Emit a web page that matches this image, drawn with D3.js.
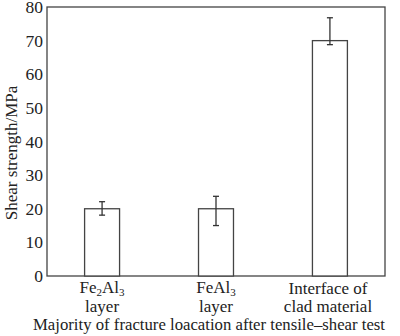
<!DOCTYPE html>
<html><head><meta charset="utf-8">
<script src="https://cdn.jsdelivr.net/npm/d3@7"></script>
<style>body{margin:0;background:#fff;} text{font-family:"Liberation Serif","Times New Roman",serif;fill:#222;}</style>
</head><body>
<svg id="c" width="400" height="336"></svg>
<script>
const categories = ["Fe2Al3", "FeAl3", "Interface"];
const values = [20, 20, 70];
const errLow = [18.1, 15, 68.8];
const errHigh = [22.1, 23.7, 76.8];
const yTicks = [0, 10, 20, 30, 40, 50, 60, 70, 80];

const svg = d3.select("#c");
const m = {l: 47, r: 385, t: 7, b: 276};
const x = d3.scaleBand().domain(categories).range([m.l, m.r]).paddingInner(0.693).paddingOuter(0.33);
const y = d3.scaleLinear().domain([0, 80]).range([m.b, m.t]);

// frame
svg.append("rect").attr("x", m.l).attr("y", m.t).attr("width", m.r - m.l).attr("height", m.b - m.t)
  .attr("fill", "none").attr("stroke", "#444").attr("stroke-width", 1.3);

// y axis labels
const ya = svg.append("g").attr("transform", `translate(${m.l},0)`)
  .call(d3.axisLeft(y).tickValues(yTicks).tickSize(0).tickPadding(4));
ya.select(".domain").remove();
ya.selectAll("text").attr("font-size", 17.5).style("font-family", '"Liberation Serif",serif').attr("fill", "#222");

// bars
svg.selectAll("rect.bar").data(categories).enter().append("rect").attr("class", "bar")
  .attr("x", d => x(d)).attr("y", (d, i) => y(values[i]))
  .attr("width", x.bandwidth()).attr("height", (d, i) => y(0) - y(values[i]))
  .attr("fill", "#fff").attr("stroke", "#444").attr("stroke-width", 1.3);

// error bars
const eb = svg.selectAll("g.err").data(categories).enter().append("g").attr("class", "err")
  .attr("stroke", "#333").attr("stroke-width", 1.3);
eb.append("line").attr("x1", d => x(d) + x.bandwidth() / 2).attr("x2", d => x(d) + x.bandwidth() / 2)
  .attr("y1", (d, i) => y(errLow[i])).attr("y2", (d, i) => y(errHigh[i]));
eb.append("line").attr("x1", d => x(d) + x.bandwidth() / 2 - 3).attr("x2", d => x(d) + x.bandwidth() / 2 + 3)
  .attr("y1", (d, i) => y(errLow[i])).attr("y2", (d, i) => y(errLow[i]));
eb.append("line").attr("x1", d => x(d) + x.bandwidth() / 2 - 3).attr("x2", d => x(d) + x.bandwidth() / 2 + 3)
  .attr("y1", (d, i) => y(errHigh[i])).attr("y2", (d, i) => y(errHigh[i]));

// category labels
const fs = 17;
const cx = i => x(categories[i]) + x.bandwidth() / 2;
function lab(i, parts, yy, dx) {
  const t = svg.append("text").attr("x", cx(i) + (dx || 0)).attr("y", yy).attr("text-anchor", "middle").attr("font-size", fs);
  parts.forEach(p => {
    if (p.sub) t.append("tspan").attr("font-size", 11).attr("dy", 2.5).text(p.t);
    else t.append("tspan").attr("dy", p.up ? -2.5 : 0).text(p.t);
  });
}
lab(0, [{t: "Fe"}, {t: "2", sub: 1}, {t: "Al", up: 1}, {t: "3", sub: 1}], 293);
lab(1, [{t: "FeAl"}, {t: "3", sub: 1}], 293);
svg.append("text").attr("x", cx(0)).attr("y", 312).attr("text-anchor", "middle").attr("font-size", fs).text("layer");
svg.append("text").attr("x", cx(1)).attr("y", 312).attr("text-anchor", "middle").attr("font-size", fs).text("layer");
svg.append("text").attr("x", 328).attr("y", 294).attr("text-anchor", "middle").attr("font-size", fs).text("Interface of");
svg.append("text").attr("x", 328).attr("y", 312).attr("text-anchor", "middle").attr("font-size", fs).text("clad material");

// axis titles
svg.append("text").attr("x", 209).attr("y", 330).attr("text-anchor", "middle").attr("font-size", fs)
  .attr("textLength", 352).attr("lengthAdjust", "spacingAndGlyphs")
  .text("Majority of fracture loacation after tensile\u2013shear test");
svg.append("text").attr("transform", "translate(17,153) rotate(-90)").attr("text-anchor", "middle").attr("font-size", 17)
  .text("Shear strength/MPa");
</script>
</body></html>
